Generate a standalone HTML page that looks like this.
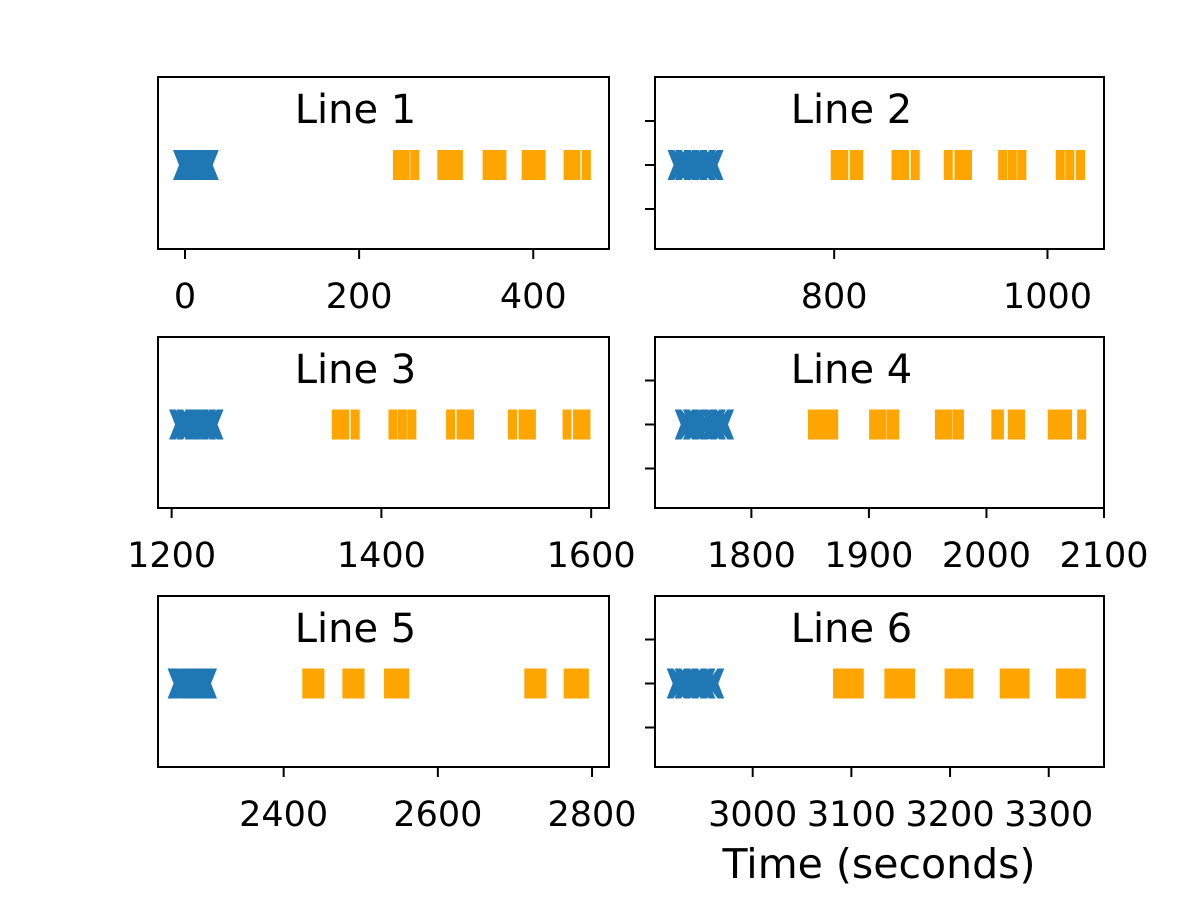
<!DOCTYPE html>
<html><head><meta charset="utf-8"><style>body{margin:0;background:#fff}svg{display:block}</style></head>
<body>
<svg id="chart" width="1200" height="900" xmlns="http://www.w3.org/2000/svg" font-family="DejaVu Sans, Liberation Sans, sans-serif"></svg>
<script>
const titles = ["Line 1","Line 2","Line 3","Line 4","Line 5","Line 6"];
const blueTimes = [
 [0,5,10,15,20,25],
 [655,662,670,678,685],
 [1209,1216,1224,1231,1238],
 [1745,1752,1760,1768,1775],
 [2265,2273,2282,2290,2298],
 [2925,2933,2942,2950,2959]
];
const orangeTimes = [
 [244,253,264,295,305,314,347,355,364,392,400,409,440,449,461],
 [801,809,819,823,858,866,876,907,917,925,958,967,976,1012,1021,1031],
 [1357,1365,1375,1411,1420,1429,1466,1476,1484,1525,1535,1543,1577,1587,1595],
 [1852,1857,1862,1867,1870,1904,1911,1919,1922,1960,1967,1975,1977,2008,2011,2022,2029,2056,2061,2066,2069,2081],
 [2430,2439,2447,2482,2492,2499,2536,2546,2557,2718,2727,2735,2769,2779,2790],
 [3086,3093,3100,3108,3138,3144,3152,3160,3199,3207,3215,3219,3255,3262,3269,3276,3312,3319,3327,3333]
];
const xTicks = [
 [0,200,400],[800,1000],[1200,1400,1600],[1800,1900,2000,2100],[2400,2600,2800],[3000,3100,3200,3300]
];
const xDomains = [[-31,487],[632,1053],[1187,1617],[1718,2100],[2237,2822],[2901,3356]];

const svg = document.getElementById('chart');
const NS = 'http://www.w3.org/2000/svg';
function mk(tag, attrs, parent){const e=document.createElementNS(NS,tag);for(const k in attrs)e.setAttribute(k,attrs[k]);(parent||svg).appendChild(e);return e;}
const cols=[[158,609],[655,1104]];
const rows=[[77,249],[337,508],[596,767]];
for(let i=0;i<6;i++){
  const c=cols[i%2], r=rows[Math.floor(i/2)];
  const g=mk('g',{});
  
  
  const [d0,d1]=xDomains[i];
  const xs=v=>c[0]+(v-d0)/(d1-d0)*(c[1]-c[0]);
  const cy=(r[0]+r[1])/2+2;
  mk('rect',{x:c[0],y:r[0],width:c[1]-c[0],height:r[1]-r[0],fill:'#fff'},g);
  blueTimes[i].forEach(v=>{
    const x=xs(v),w=12,h=15;
    const p=[[-1,-1],[-0.45,-1],[0,-0.5],[0.45,-1],[1,-1],[0.5,0],[1,1],[0.45,1],[0,0.5],[-0.45,1],[-1,1],[-0.5,0]];
    const m=mk('polygon',{points:p.map(q=>(x+q[0]*w)+','+(cy+q[1]*h)).join(' '),fill:'#1f77b4'},g);
    
    
  });
  orangeTimes[i].forEach(v=>{
    const x=xs(v);
    const m=mk('rect',{x:x-4.5,y:cy-15,width:9,height:30,fill:'#ffa500'},g);
    
    
  });
  mk('rect',{x:c[0],y:r[0],width:c[1]-c[0],height:r[1]-r[0],fill:'none',stroke:'#000','stroke-width':2},g);
  const t=mk('text',{x:(c[0]+c[1])/2-28,y:r[0]+46,'text-anchor':'middle','font-size':40,fill:'#000'},g);
  t.textContent=titles[i];
  
  
  xTicks[i].forEach(v=>{
    const x=xs(v);
    mk('line',{x1:x,x2:x,y1:r[1],y2:r[1]+10,stroke:'#000','stroke-width':2},g);
    const l=mk('text',{x:x,y:r[1]+59,'text-anchor':'middle','font-size':35,fill:'#000'},g);
    l.textContent=v;
    
    
  });
  if(i%2==1){
    [-44,0,44].forEach(dy=>mk('line',{x1:c[0]-10,x2:c[0],y1:cy+dy,y2:cy+dy,stroke:'#000','stroke-width':2},g));
  }
}
const xl=mk('text',{x:879,y:878,'text-anchor':'middle','font-size':41,fill:'#000'});
xl.textContent='Time (seconds)';


</script>
</body></html>
